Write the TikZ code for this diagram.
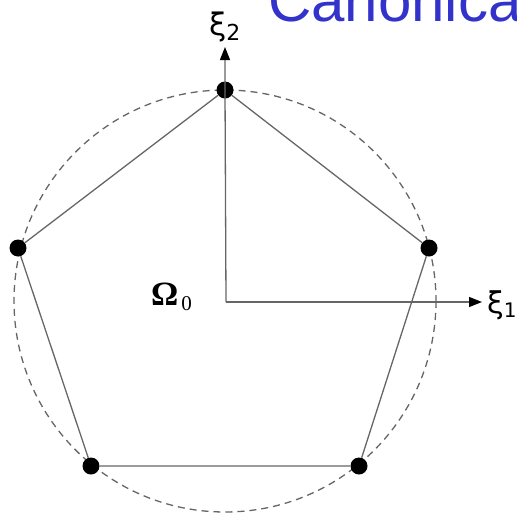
\documentclass[tikz,border=0pt]{standalone}
\usepackage{fontspec}
\setmainfont{Liberation Sans}
\newfontfamily\djv{DejaVu Sans}
\newfontfamily\serifb{Liberation Serif}
\usetikzlibrary{arrows.meta}
\definecolor{titleblue}{HTML}{3333CC}
\begin{document}
\begin{tikzpicture}[x=1pt,y=-1pt,
  edge/.style={draw=black!60,line width=1.3pt},
  axis/.style={draw=black!60,line width=1.3pt,-{Stealth[length=13pt,width=10pt,inset=0pt,color=black,fill=black]}},
  vert/.style={circle,fill=black,inner sep=0pt,minimum size=17pt},
  ring/.style={draw=black!60,dash pattern=on 7pt off 5pt,line width=1.3pt}]
\useasboundingbox (0,0) rectangle (517,517);
\draw[ring] (225,301) circle (211);
\coordinate (o) at (226,302);
\node[vert] (v1) at (225,90) {};
\node[vert] (v2) at (429,248) {};
\node[vert] (v3) at (359,466) {};
\node[vert] (v4) at (91,466) {};
\node[vert] (v5) at (18,248) {};
\draw[edge] (v1) -- (v2) -- (v3) -- (v4) -- (v5) -- (v1);
\coordinate (t2) at (225,47);
\coordinate (t1) at (482,302);
\draw[axis] (o) -- (v1.center) -- (t2);
\draw[axis] (o) -- (t1);
\node[anchor=base west,inner sep=0pt,font=\djv\fontsize{31}{31}\selectfont] (x2) at (209,35) {ξ\raisebox{-5pt}{\fontsize{22}{22}\selectfont 2}};
\node[anchor=base west,inner sep=0pt,font=\djv\fontsize{30}{30}\selectfont] (x1) at (487,313) {ξ\raisebox{-4pt}{\fontsize{20}{20}\selectfont 1}};
\node[anchor=base west,inner sep=0pt] (om) at (151,305) {\serifb\bfseries\fontsize{34}{34}\selectfont Ω\hspace{3pt}\raisebox{-5pt}{\mdseries\fontsize{21}{21}\selectfont 0}};
\node[anchor=base west,inner sep=0pt,text=titleblue,font=\fontsize{60}{60}\selectfont] (title) at (268,21) {Canonical};
\end{tikzpicture}
\end{document}
